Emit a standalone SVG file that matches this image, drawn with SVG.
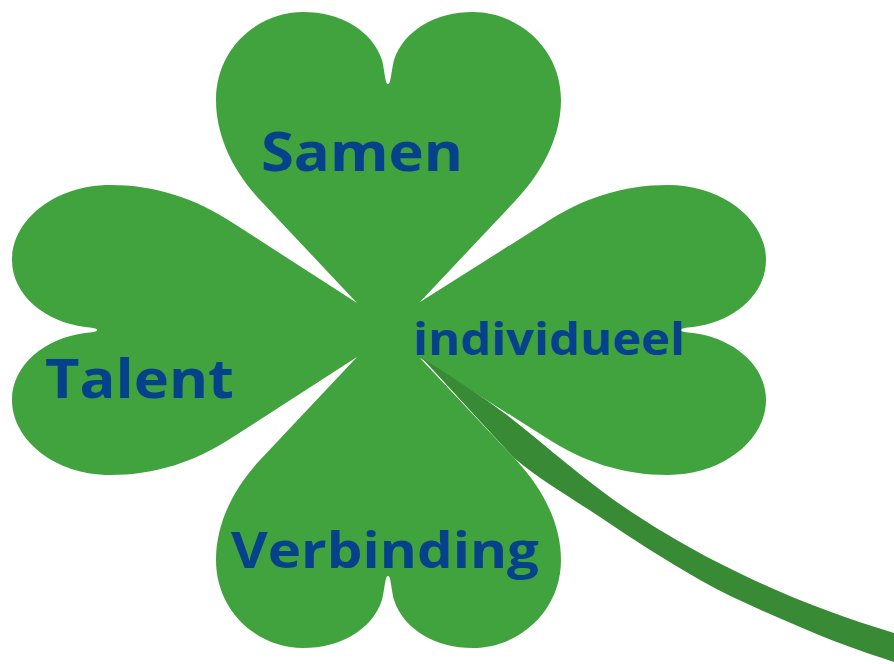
<svg xmlns="http://www.w3.org/2000/svg" width="894" height="664" viewBox="0 0 894 664">
<style>
.leaf{fill:#41a33d}
.t{font-family:"Open Sans","DejaVu Sans",sans-serif;font-weight:700;fill:#06428c}
</style>
<rect width="894" height="664" fill="#ffffff"/>
<g id="clover">
<path class="leaf" d="M357 303 L260 200 C232 170 216 135 216 100 C216 48 258 12 303 12 C340 12 372 30 382 60 C385 72 385 84 388 84 C391 84 391 72 394 60 C404 30 436 12 473 12 C518 12 561 48 561 100 C561 135 544 170 516 200 L420 302 L545 223 C583 198 623 185 668 185 C723 185 766 220 766 260 C766 295 733 322 693 327 C686 328 681 328 681 330 C681 332 686 332 693 333 C733 338 766 365 766 400 C766 440 723 475 668 475 C623 475 583 462 545 437 L420 358 L516 460 C544 490 561 525 561 560 C561 612 518 648 473 648 C436 648 404 630 394 600 C391 588 391 576 388 576 C385 576 385 588 382 600 C372 630 340 648 303 648 C258 648 216 612 216 560 C216 525 232 490 260 460 L357 357 L233 437 C195 462 155 475 110 475 C55 475 12 440 12 400 C12 365 45 338 85 333 C92 332 97 332 97 330 C97 328 92 328 85 327 C45 322 12 295 12 260 C12 220 55 185 110 185 C155 185 195 198 233 223 Z"/>
</g>
<g id="connectors">
<path id="stem" fill="#388a35" d="M422 358 C452 377 480 395 507 415 C550 449 590 485 633 513 C665 534 698 553 733 570 C785 596 840 617 894 633 L894 662 C860 651 830 640 800 627 C765 612 730 597 700 580 C665 560 632 539 600 517 C570 497 540 480 513 457 Z"/>
</g>
<g id="node-samen"><text class="t" x="261" y="171" font-size="54" textLength="202" lengthAdjust="spacingAndGlyphs">Samen</text></g>
<g id="node-talent"><text class="t" x="45" y="398" font-size="54" textLength="189" lengthAdjust="spacingAndGlyphs">Talent</text></g>
<g id="node-individueel"><text class="t" x="413" y="355" font-size="44" textLength="272" lengthAdjust="spacingAndGlyphs">individueel</text></g>
<g id="node-verbinding"><text class="t" x="231" y="568" font-size="50" textLength="308" lengthAdjust="spacingAndGlyphs">Verbinding</text></g>
</svg>
